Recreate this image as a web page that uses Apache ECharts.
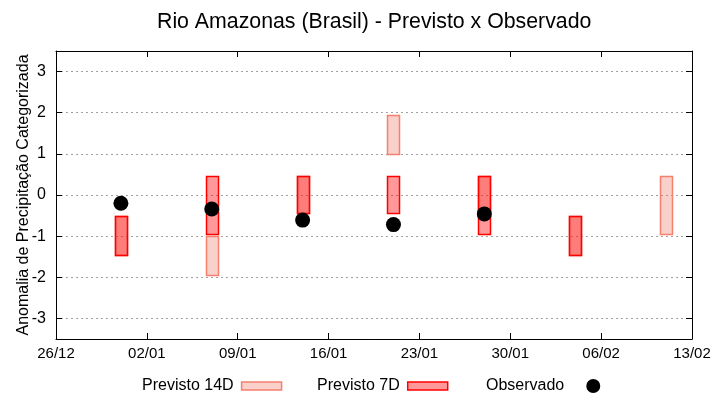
<!DOCTYPE html>
<html><head><meta charset="utf-8">
<script src="https://cdn.jsdelivr.net/npm/echarts@6/dist/echarts.min.js"></script>
<style>html,body{margin:0;padding:0;background:#fff}#c{width:720px;height:400px}</style>
</head><body><div id="c"></div>
<script>
const baseDate = '2014-12-26';
const xTickLabels = ['26/12','02/01','09/01','16/01','23/01','30/01','06/02','13/02'];
const yTicks = [-3,-2,-1,0,1,2,3];

const prev14Dates = ['2014-12-31','2015-01-07','2015-01-14','2015-01-21','2015-01-28','2015-02-04','2015-02-11'];
const prev14Low  = [-1.45, -1.95, -0.45, 1.0, -0.5, -1.45, -0.95];
const prev14High = [-0.5, -1.0, 0.45, 1.95, 0.45, -0.5, 0.45];

const prev7Dates = ['2014-12-31','2015-01-07','2015-01-14','2015-01-21','2015-01-28','2015-02-04'];
const prev7Low  = [-1.45, -0.95, -0.45, -0.45, -0.95, -1.45];
const prev7High = [-0.5, 0.45, 0.45, 0.45, 0.45, -0.5];

const obsDates = ['2014-12-31','2015-01-07','2015-01-14','2015-01-21','2015-01-28'];
const obsValues = [-0.2, -0.34, -0.61, -0.72, -0.46];

const DAY = 86400000;
const t0 = Date.parse(baseDate + 'T00:00:00Z');
const dayOf = d => Math.round((Date.parse(d + 'T00:00:00Z') - t0) / DAY);

const d14 = prev14Dates.map((d, i) => [dayOf(d), prev14Low[i], prev14High[i]]);
const d7 = prev7Dates.map((d, i) => [dayOf(d), prev7Low[i], prev7High[i]]);
const dObs = obsDates.map((d, i) => [dayOf(d), obsValues[i]]);

const C14 = {fill: 'rgba(240,100,80,0.3)', stroke: '#f4806f'};
const C7 = {fill: 'rgba(255,0,0,0.4)', stroke: '#ff0000'};
const FONT = 'Liberation Sans';

function rectRenderer(col) {
  return function (params, api) {
    const x = api.value(0), lo = api.value(1), hi = api.value(2);
    const p1 = api.coord([x - 0.46, hi]);
    const p2 = api.coord([x + 0.46, lo]);
    return {
      type: 'rect',
      shape: {x: Math.round(p1[0]) + 0.5, y: Math.round(p1[1]) + 0.5,
              width: Math.round(p2[0] - p1[0]), height: Math.round(p2[1] - p1[1])},
      style: {fill: col.fill, stroke: col.stroke, lineWidth: 1.5}
    };
  };
}

const chart = echarts.init(document.getElementById('c'), null, {renderer: 'canvas'});
const nTicks = xTickLabels.length - 1;
const span = nTicks * 7;

const legendCommon = {
  orient: 'horizontal', align: 'right', top: 373, itemGap: 10,
  textStyle: {fontFamily: FONT, fontSize: 16, color: '#000', padding: [0, 3, 0, 0]},
  selectedMode: false
};

chart.setOption({
  animation: false,
  title: {
    text: 'Rio Amazonas (Brasil) - Previsto x Observado',
    left: 152, top: 7, padding: 5,
    textStyle: {fontFamily: FONT, fontSize: 21.3, fontWeight: 'normal', color: '#000'}
  },
  legend: [
    Object.assign({}, legendCommon, {left: 137, itemWidth: 40, itemHeight: 8,
      data: [{name: 'Previsto 14D', icon: 'rect', itemStyle: {color: C14.fill, borderColor: C14.stroke, borderWidth: 1.5}}]}),
    Object.assign({}, legendCommon, {left: 312, itemWidth: 40, itemHeight: 8,
      data: [{name: 'Previsto 7D', icon: 'rect', itemStyle: {color: C7.fill, borderColor: C7.stroke, borderWidth: 1.5}}]}),
    Object.assign({}, legendCommon, {left: 481, itemWidth: 31, itemHeight: 14,
      textStyle: {fontFamily: FONT, fontSize: 16, color: '#000'},
      data: [{name: 'Observado', icon: 'path://M0,7 L0.01,7 M31,7 a7,7 0 1,0 -14,0 a7,7 0 1,0 14,0 Z', itemStyle: {color: '#000'}}]})
  ],
  grid: {left: 56, right: 28, top: 51, bottom: 61, containLabel: false, outerBoundsMode: 'none'},
  xAxis: [{
    type: 'value', min: 0, max: span, interval: 7,
    axisLine: {show: true, onZero: false, lineStyle: {color: '#000', width: 1}},
    axisTick: {show: true, inside: true, length: 6, lineStyle: {color: '#000'}},
    splitLine: {show: false},
    axisLabel: {fontFamily: FONT, fontSize: 15, color: '#000', margin: 7,
      formatter: v => xTickLabels[Math.round(v / 7)]}
  }, {
    type: 'value', min: 0, max: span, interval: 7, position: 'top',
    axisLine: {show: true, onZero: false, lineStyle: {color: '#000', width: 1}},
    axisTick: {show: true, inside: true, length: 6, lineStyle: {color: '#000'}},
    splitLine: {show: false}, axisLabel: {show: false}
  }],
  yAxis: [{
    type: 'value', min: -3.5, max: 3.5, interval: 0.5,
    name: 'Anomalia de Precipitação Categorizada', nameLocation: 'middle', nameGap: 24,
    nameMoveOverlap: false,
    nameTextStyle: {fontFamily: FONT, fontSize: 16, color: '#000'},
    axisLine: {show: true, onZero: false, lineStyle: {color: '#000', width: 1}},
    axisTick: {show: true, inside: true, length: 6, lineStyle: {color: '#000'},
      customValues: yTicks},
    splitLine: {show: true, lineStyle: {color: '#a0a0a0', type: [2, 3], width: 1},
      customValues: yTicks},
    axisLabel: {fontFamily: FONT, fontSize: 16, color: '#000', margin: 10, customValues: yTicks,
      formatter: v => String(v)}
  }, {
    type: 'value', min: -3.5, max: 3.5, interval: 0.5, position: 'right',
    axisLine: {show: true, onZero: false, lineStyle: {color: '#000', width: 1}},
    axisTick: {show: true, inside: true, length: 6, lineStyle: {color: '#000'}, customValues: yTicks},
    splitLine: {show: false}, axisLabel: {show: false}
  }],
  series: [
    {name: 'Previsto 14D', type: 'custom', renderItem: rectRenderer(C14), data: d14,
      itemStyle: {color: C14.fill}, encode: {x: 0, y: [1, 2]}, z: 2},
    {name: 'Previsto 7D', type: 'custom', renderItem: rectRenderer(C7), data: d7,
      itemStyle: {color: C7.fill}, encode: {x: 0, y: [1, 2]}, z: 3},
    {name: 'Observado', type: 'scatter', symbol: 'circle', symbolSize: 15, data: dObs,
      itemStyle: {color: '#000', opacity: 1}, z: 4}
  ]
});
</script></body></html>
